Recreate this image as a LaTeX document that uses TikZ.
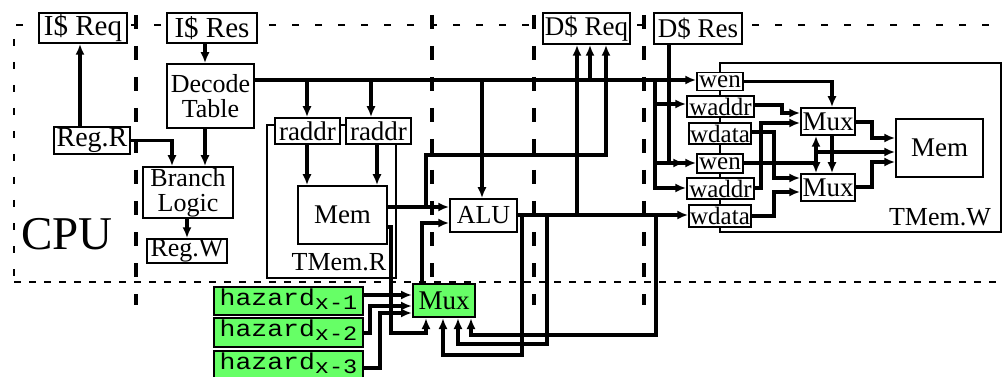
\documentclass[tikz,border=0pt]{standalone}
\usepackage{fontspec}
\setmainfont{Liberation Serif}
\newfontfamily\monof{Liberation Mono}
\usetikzlibrary{arrows.meta}
\definecolor{hzgreen}{RGB}{102,255,102}
\newcommand{\hzlabel}[1]{\scalebox{1.15}[1]{\monof\fontsize{23}{23}\selectfont hazard\raisebox{-4.5pt}{\fontsize{20.5}{20.5}\selectfont x-#1}}}
\newcommand{\fs}[1]{\fontsize{#1}{#1}\selectfont}
\begin{document}
\begin{tikzpicture}[x=1pt,y=-1pt,
  box/.style={draw, line width=1.5pt, fill=white, inner sep=0pt, align=center,
    font=\fs{26}},
  gbox/.style={box, fill=hzgreen, line width=2pt, font=\fs{26}},
  lbl/.style={inner sep=0pt, font=\fs{26}},
  wire/.style={line width=3.2pt},
  arr/.style={wire, -{Latex[length=11pt,width=9pt]}},
  darr/.style={wire, {Latex[length=11pt,width=9pt]}-{Latex[length=11pt,width=9pt]}},
  thickdash/.style={line width=4pt, dash pattern=on 14pt off 17pt},
  thindashA/.style={line width=1.6pt, dash pattern=on 7pt off 16pt},
  thindashB/.style={line width=1.6pt, dash pattern=on 7pt off 8pt},
  region/.style={line width=1.5pt}]
\useasboundingbox (0,0) rectangle (1002,377);

% helper coordinates
\foreach \v in {80,172,187,205,307,370,371,377,380,391,422,426,443,458,471,482,522,547,577,590,606,655,656,669,761,774,782,816,832,872}
  \coordinate (x\v) at (\v,0);
\foreach \v in {80,104,105,113,122,123,132,138,152,155,162,163,178,187,188,192,207,215,216,223,227,295,306,313,333,335,344,355,368}
  \coordinate (y\v) at (0,\v);

% dashed frames
\draw[thindashA] (1012,25) -- (14,25) -- (14,282);
\draw[thindashB] (14,282) -- (1012,282);
\foreach \xx in {136,432,534,644}
  \draw[thickdash] (\xx,15) -- (\xx,305);

% containers
\draw[region] (267,125) rectangle (396,278);
\draw[region] (720,63) rectangle (1001,232);

% nodes
\node[box, minimum width=88pt, minimum height=30pt, font=\fs{29}] (isreq) at (83,28) {I\$ Req};
\node[box, minimum width=90pt, minimum height=30pt, font=\fs{29}] (isres) at (212,28) {I\$ Res};
\node[box, minimum width=87pt, minimum height=64pt, font=\fontsize{26}{25}\selectfont] (decode) at (210.5,96) {Decode\\Table};
\node[box, minimum width=76pt, minimum height=27pt, font=\fs{28}] (regr) at (92,140.5) {Reg.R};
\node[box, minimum width=90pt, minimum height=51pt, font=\fontsize{26}{25}\selectfont] (branch) at (188,192.5) {Branch\\Logic};
\node[box, minimum width=80pt, minimum height=24pt] (regw) at (187,251) {Reg.W};
\node[inner sep=0pt, font=\fs{47}] (cpu) at (67,234) {CPU};

\node[box, minimum width=65pt, minimum height=26pt, font=\fs{27}] (raddr1) at (307.5,131) {raddr};
\node[box, minimum width=65pt, minimum height=26pt, font=\fs{27}] (raddr2) at (378.5,131) {raddr};
\node[box, minimum width=89pt, minimum height=58pt, font=\fs{27}] (memr) at (342.5,215) {Mem};
\node[lbl] (tmemr) at (339,262) {TMem.R};
\node[box, minimum width=67pt, minimum height=33pt] (alu) at (483.5,215.5) {ALU};
\node[box, minimum width=87pt, minimum height=31pt, font=\fs{27}] (dsreq) at (586.5,28.5) {D\$ Req};
\node[box, minimum width=88pt, minimum height=31pt, font=\fs{27}] (dsres) at (698,28.5) {D\$ Res};

\node[box, minimum width=46pt, minimum height=18pt, font=\fs{25}] (wen1) at (720,81.5) {wen};
\node[box, minimum width=67pt, minimum height=21pt, font=\fs{25}] (waddr1) at (720.5,106.5) {waddr};
\node[box, minimum width=62pt, minimum height=21pt, font=\fs{25}] (wdata1) at (720,133.5) {wdata};
\node[box, minimum width=46pt, minimum height=19pt, font=\fs{25}] (wen2) at (720,163.5) {wen};
\node[box, minimum width=67pt, minimum height=21pt, font=\fs{25}] (waddr2) at (720.5,188.5) {waddr};
\node[box, minimum width=62pt, minimum height=22pt, font=\fs{25}] (wdata2) at (720,216) {wdata};
\node[box, minimum width=54pt, minimum height=27pt, font=\fs{27}] (muxw1) at (828,121.5) {Mux};
\node[box, minimum width=54pt, minimum height=27pt, font=\fs{27}] (muxw2) at (828,187.5) {Mux};
\node[box, minimum width=87pt, minimum height=58pt, font=\fs{27}] (memw) at (939.5,148) {Mem};
\node[lbl] (tmemw) at (940,217) {TMem.W};

\node[gbox, minimum width=149pt, text height=18pt, text depth=10pt] (hz1) at (288.5,301) {\hzlabel{1}};
\node[gbox, minimum width=149pt, text height=18pt, text depth=11pt] (hz2) at (288.5,332.5) {\hzlabel{2}};
\node[gbox, minimum width=149pt, text height=18pt, text depth=10pt] (hz3) at (288.5,365) {\hzlabel{3}};
\node[gbox, minimum width=62pt, minimum height=33pt, font=\fs{27}] (hmux) at (444,300.5) {Mux};

% CPU front end
\draw[arr] (regr.north -| x80) -- (isreq.south -| x80);
\draw[arr] (isres.south -| x205) -- (decode.north -| x205);
\draw[arr] (decode.south -| x205) -- (branch.north -| x205);
\draw[arr] (regr.east) -| (branch.north -| x172);
\draw[arr] (branch.south -| x187) -- (regw.north -| x187);

% decode bus
\draw[arr] (decode.east |- y80) -- (wen1.west |- y80);
\draw[arr] (x307 |- y80) -- (raddr1.north -| x307);
\draw[arr] (x371 |- y80) -- (raddr2.north -| x371);
\draw[arr] (raddr1.south -| x307) -- (memr.north -| x307);
\draw[arr] (raddr2.south -| x377) -- (memr.north -| x377);
\draw[arr] (x482 |- y80) -- (alu.north -| x482);
\draw[arr] (x590 |- y80) -- (dsreq.south -| x590);

% memory read to ALU / D$
\draw[arr] (memr.east |- y207) -- (alu.west |- y207);
\draw[arr] (x426 |- y207) -- (x426 |- y155) -| (dsreq.south -| x606);
\draw[arr] (alu.east |- y215) -- (wdata2.west |- y215);
\draw[arr] (x577 |- y215) -- (dsreq.south -| x577);
\draw[arr] (hmux.north -| x422) |- (alu.west |- y223);

% hazard mux inputs
\draw[arr] (memr.east |- y227) -| (x391 |- y333) -| (hmux.south -| x426);
\draw[arr] (x522 |- y215) -- (x522 |- y355) -| (hmux.south -| x443);
\draw[arr] (x547 |- y215) -- (x547 |- y344) -| (hmux.south -| x458);
\draw[arr] (x656 |- y215) -- (x656 |- y335) -| (hmux.south -| x471);
\draw[arr] (hz1.east |- y295) -- (hmux.west |- y295);
\draw[arr] (hz2.east |- y333) -| (x370 |- y306) -- (hmux.west |- y306);
\draw[arr] (hz3.east |- y368) -| (x380 |- y313) -- (hmux.west |- y313);

% write side
\draw[arr] (x655 |- y80) |- (waddr1.west |- y104);
\draw[arr] (x655 |- y80) |- ([xshift=-12pt]wen2.west |- y163);
\draw[arr] (x655 |- y80) |- (waddr2.west |- y188);
\draw[arr] (dsres.south -| x669) |- (wen2.west |- y163);

\draw[arr] (wen1.east) -| (muxw1.north -| x832);
\draw[arr] (muxw1.south -| x832) -- (muxw2.north -| x832);
\draw[arr] (waddr1.east |- y105) -| (x782 |- y113) -- (muxw1.west |- y113);
\draw[arr] (waddr2.east |- y188) -| (x761 |- y123) -- (muxw1.west |- y123);
\draw[arr] (wdata1.east |- y132) -| (x774 |- y178) -- (muxw2.west |- y178);
\draw[arr] (wdata2.east |- y216) -| (x774 |- y192) -- (muxw2.west |- y192);
\draw[wire] (wen2.east |- y163) -- (x816 |- y163);
\draw[darr] (muxw1.south -| x816) -- (muxw2.north -| x816);
\draw[arr] (x816 |- y152) -- (memw.west |- y152);
\draw[arr] (muxw1.east |- y122) -| (x872 |- y138) -- (memw.west |- y138);
\draw[arr] (muxw2.east |- y187) -| (x872 |- y162) -- (memw.west |- y162);
\end{tikzpicture}
\end{document}
